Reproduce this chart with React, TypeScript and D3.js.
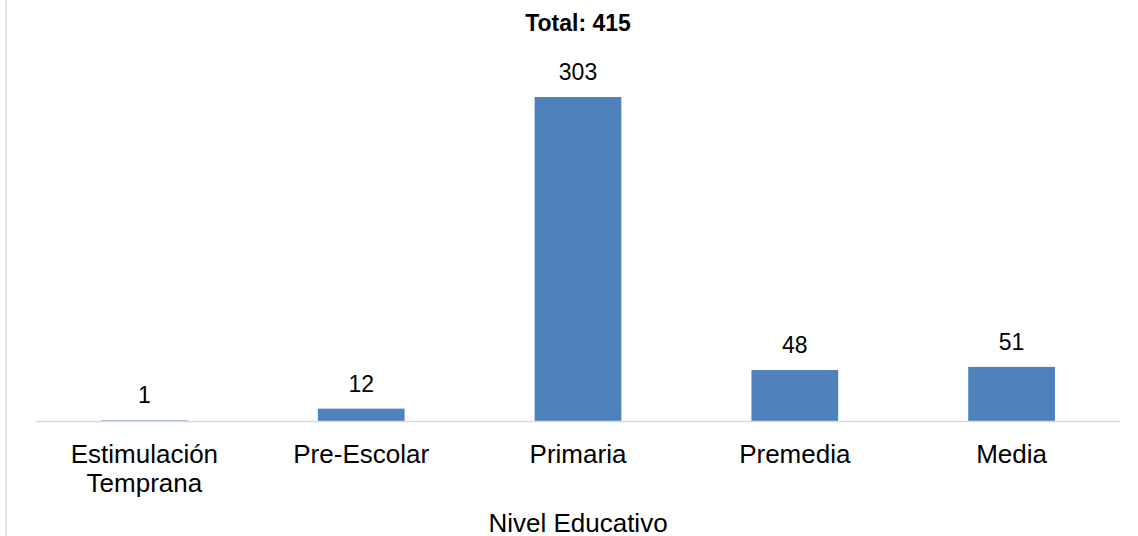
import React from "react";
import { scaleBand, scaleLinear } from "d3";

const categories = ["Estimulación\nTemprana", "Pre-Escolar", "Primaria", "Premedia", "Media"];
const values = [1, 12, 303, 48, 51];
const chartTitle = "Total: 415";
const axisTitle = "Nivel Educativo";

const WIDTH = 1138;
const HEIGHT = 536;
const FONT = "'Liberation Sans', Arial, sans-serif";

function App() {
  const x = scaleBand<string>()
    .domain(categories)
    .range([36, 1120])
    .padding(0);

  const y = scaleLinear().domain([0, 350]).range([421.5, 46.7]);

  const barWidth = x.bandwidth() * 0.4;

  return (
    <svg
      width={WIDTH}
      height={HEIGHT}
      style={{ position: "absolute", left: 0, top: 0, background: "#fff" }}
    >
      {/* chart border, only the left edge is visible */}
      <line x1={6} x2={6} y1={0} y2={HEIGHT} stroke="#d9d9d9" strokeWidth={1.5} />

      <text
        x={578}
        y={30.5}
        textAnchor="middle"
        fontFamily={FONT}
        fontWeight="bold"
        fontSize={23}
        fill="#000"
      >
        {chartTitle}
      </text>

      {categories.map((c, i) => {
        const cx = (x(c) as number) + x.bandwidth() / 2;
        const top = y(values[i]);
        return (
          <g key={c}>
            <rect
              x={cx - barWidth / 2}
              y={top}
              width={barWidth}
              height={y(0) - top}
              fill="#4f81bd"
            />
            <text
              x={cx}
              y={top - 17}
              textAnchor="middle"
              fontFamily={FONT}
              fontSize={23}
              fill="#000"
            >
              {values[i]}
            </text>
          </g>
        );
      })}

      <line x1={36} x2={1120} y1={y(0)} y2={y(0)} stroke="#d9d9d9" strokeWidth={1.5} />

      {categories.map(c => {
        const cx = (x(c) as number) + x.bandwidth() / 2;
        return (
          <text
            key={c}
            x={cx}
            y={463}
            textAnchor="middle"
            fontFamily={FONT}
            fontSize={26}
            fill="#000"
          >
            {c.split("\n").map((line, j) => (
              <tspan key={j} x={cx} dy={j === 0 ? 0 : 29}>
                {line}
              </tspan>
            ))}
          </text>
        );
      })}

      <text
        x={578}
        y={531.5}
        textAnchor="middle"
        fontFamily={FONT}
        fontSize={26}
        fill="#000"
      >
        {axisTitle}
      </text>
    </svg>
  );
}

export default App;
